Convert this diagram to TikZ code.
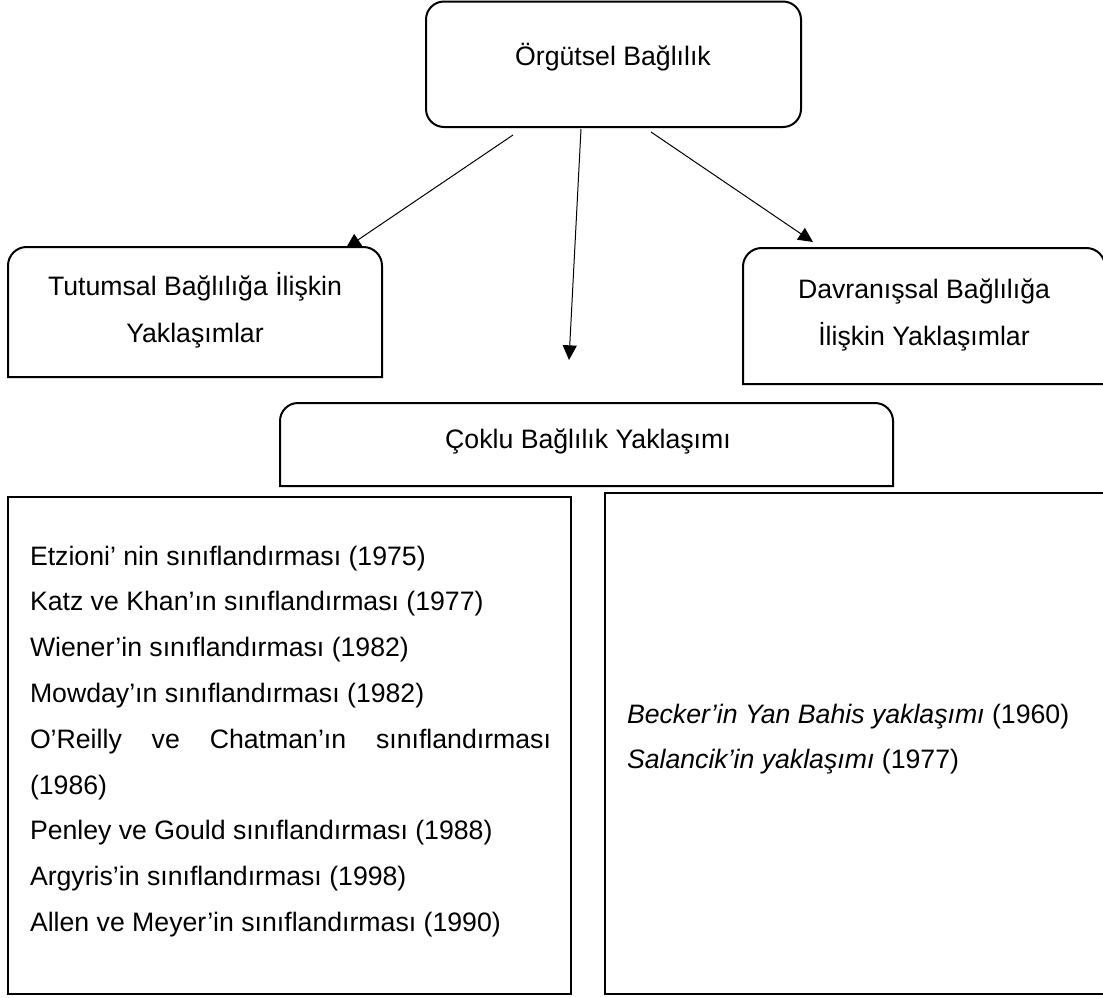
\documentclass[tikz,border=0pt]{standalone}
\usepackage{fontspec}
\setmainfont{Liberation Sans}
\usetikzlibrary{arrows.meta}
\begin{document}
\begin{tikzpicture}[x=0.75pt,y=-0.75pt,
  boxline/.style={line width=1.5pt, line join=miter},
  conn/.style={line width=0.75pt, -{Triangle[length=11pt,width=10.5pt]}},
  txt/.style={font=\fontsize{20pt}{24pt}\selectfont, inner sep=0pt, outer sep=0pt}]
\useasboundingbox (0,0) rectangle (1103,997);
\clip (0,0) rectangle (1103,997);

% boxes
\draw[boxline, rounded corners=13.5pt] (426,1.5) rectangle (801,127);
\draw[boxline] (8,312) [rounded corners=14pt] -- (8,247) -- (382,247) -- (382,312) [sharp corners] -- (382,377) -- (8,377) -- cycle;
\draw[boxline] (743,316) [rounded corners=14pt] -- (743,248) -- (1105,248) -- (1105,316) [sharp corners] -- (1105,384) -- (743,384) -- cycle;
\draw[boxline] (280,445) [rounded corners=13.5pt] -- (280,403) -- (893,403) -- (893,445) [sharp corners] -- (893,486) -- (280,486) -- cycle;
\draw[boxline] (8,497) rectangle (571,994);
\draw[boxline] (605,493) rectangle (1105,994);

% texts
\node[txt, anchor=base] (org) at (613,65) {Örgütsel Bağlılık};
\node[txt, anchor=base] (tut1) at (195,295) {Tutumsal Bağlılığa İlişkin};
\node[txt, anchor=base] (tut2) at (195,342) {Yaklaşımlar};
\node[txt, anchor=base] (dav1) at (924,298) {Davranışsal Bağlılığa};
\node[txt, anchor=base] (dav2) at (924,345) {İlişkin Yaklaşımlar};
\node[txt, anchor=base] (cok) at (588,448) {Çoklu Bağlılık Yaklaşımı};

\node[txt, anchor=base west] (l1) at (30,565.0) {Etzioni’ nin sınıflandırması (1975)};
\node[txt, anchor=base west] (l2) at (30,610.8) {Katz ve Khan’ın sınıflandırması (1977)};
\node[txt, anchor=base west] (l3) at (30,656.6) {Wiener’in sınıflandırması (1982)};
\node[txt, anchor=base west] (l4) at (30,702.4) {Mowday’ın sınıflandırması (1982)};
\node[txt, anchor=base west] (l5) at (30,748.2) {\makebox[390.75pt][s]{O’Reilly ve Chatman’ın sınıflandırması}};
\node[txt, anchor=base west] (l6) at (30,794.0) {(1986)};
\node[txt, anchor=base west] (l7) at (30,839.8) {Penley ve Gould sınıflandırması (1988)};
\node[txt, anchor=base west] (l8) at (30,885.6) {Argyris’in sınıflandırması (1998)};
\node[txt, anchor=base west] (l9) at (30,931.4) {Allen ve Meyer’in sınıflandırması (1990)};

\node[txt, anchor=base west] (r1) at (627,723) {\textit{Becker’in Yan Bahis yaklaşımı} (1960)};
\node[txt, anchor=base west] (r2) at (627,768) {\textit{Salancik’in yaklaşımı} (1977)};

% connectors
\coordinate (aLs) at (513,135);
\coordinate (aLe) at (346,248);
\coordinate (aMs) at (581,129);
\coordinate (aMe) at (569,360);
\coordinate (aRs) at (651,132);
\coordinate (aRe) at (813,242);
\draw[conn] (aLs) -- (aLe);
\draw[conn] (aMs) -- (aMe);
\draw[conn] (aRs) -- (aRe);
\end{tikzpicture}
\end{document}
